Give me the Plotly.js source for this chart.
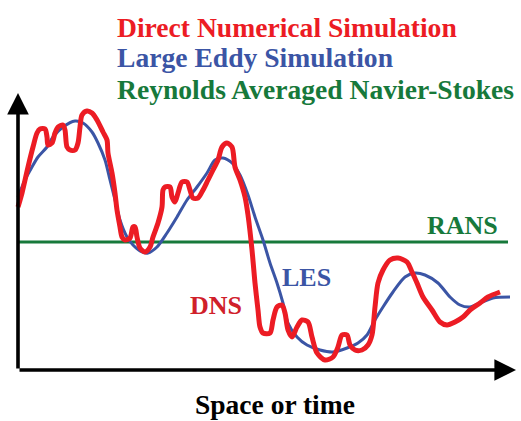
<!DOCTYPE html>
<html>
<head>
<meta charset="utf-8">
<script src="https://cdn.plot.ly/plotly-3.0.1.min.js"></script>
<style>html,body{margin:0;padding:0;background:#fff;}#chart{width:521px;height:421px;}</style>
</head>
<body>
<div id="chart"></div>
<script>
// DNS: Direct Numerical Simulation (space/time vs value)
const dnsX = [0,4,10,15,19,22,27,29,30,34,37,40,45,47,49,52,57,60,62,64,69,74,79,85,89,90,94,97,99,102,104,107,112,115,117,119,122,127,132,135,140,144,145,147,152,154,157,160,164,169,172,175,180,185,190,195,200,204,209,214,217,222,227,230,234,237,240,242,245,252,255,259,264,267,270,274,279,284,290,294,299,307,315,320,324,329,332,337,344,350,354,357,360,365,372,380,389,394,399,405,414,422,429,437,445,452,462,470,482];
const dnsY = [163,177,203,223,237,241,241,233,225,227,237,243,245,240,223,220,220,227,243,255,259,257,250,238,230,217,197,177,160,143,133,130,132,143,143,133,122,118,123,133,147,163,180,183,183,173,168,177,188,188,180,172,172,180,190,200,210,223,227,223,203,190,173,155,120,87,60,43,37,37,50,63,65,57,40,33,43,50,48,33,17,10,13,23,35,35,25,20,20,25,35,63,87,100,110,112,108,98,87,73,60,48,45,48,53,60,67,73,78];
// LES: Large Eddy Simulation
const lesX = [0,7,14,20,29,35,45,57,65,74,80,87,92,97,102,109,115,124,130,139,149,159,169,179,189,197,205,214,222,230,237,245,252,259,265,270,279,289,302,315,329,340,349,357,365,375,387,397,407,420,432,442,452,462,475,492];
const lesY = [173,190,203,213,223,233,243,249,247,238,227,210,190,170,150,133,125,118,117,123,137,153,170,183,197,210,212,207,195,175,153,130,107,87,67,47,33,25,20,18,22,27,35,50,63,78,93,97,95,87,73,65,63,67,72,73];
// RANS: Reynolds Averaged Navier-Stokes (constant mean)
const ransX = [0,490];
const ransY = [128,128];
// Text
const titleLines = ["Direct Numerical Simulation","Large Eddy Simulation","Reynolds Averaged Navier-Stokes"];
const seriesLabels = ["DNS","LES","RANS"];
const xLabel = "Space or time";

const RED = "#ec1c24", BLUE = "#3b55a5", GREEN = "#17793b";
const FONT = "Liberation Serif";

const traces = [
  {x: ransX, y: ransY, mode: "lines", line: {color: GREEN, width: 3}, hoverinfo: "skip"},
  {x: lesX, y: lesY, mode: "lines", line: {color: BLUE, width: 3, shape: "spline", smoothing: 0.8}, hoverinfo: "skip"},
  {x: dnsX, y: dnsY, mode: "lines", line: {color: RED, width: 5, shape: "spline", smoothing: 0.8}, hoverinfo: "skip"}
];

function txt(text, x, y, color, size, anchor) {
  return {text: "<b>" + text + "</b>", x: x, y: y, xref: "x", yref: "y", showarrow: false,
    xanchor: anchor || "left", yanchor: "middle", borderpad: 0,
    font: {family: FONT, size: size, color: color}};
}

const annotations = [
  txt(titleLines[0], 98, 343, RED, 27.6),
  txt(titleLines[1], 98, 313, BLUE, 27.6),
  txt(titleLines[2], 98, 281, GREEN, 27.6),
  txt(seriesLabels[0], 171, 65, "#d0202a", 26),
  txt(seriesLabels[1], 263, 93, BLUE, 26),
  txt(seriesLabels[2], 408, 145, GREEN, 26),
  txt(xLabel, 257, -34, "#000", 27.5, "center"),
  // axes with arrowheads
  {x: 0, y: 277, ax: 0, ay: 0, axref: "x", ayref: "y", xref: "x", yref: "y", showarrow: true,
   arrowhead: 2, arrowsize: 1.2, arrowwidth: 3.6, arrowcolor: "#000", text: ""},
  {x: 498, y: 0, ax: 0, ay: 0, axref: "x", ayref: "y", xref: "x", yref: "y", showarrow: true,
   arrowhead: 2, arrowsize: 1.2, arrowwidth: 3.6, arrowcolor: "#000", text: ""}
];

const layout = {
  width: 521, height: 421,
  margin: {l: 0, r: 0, t: 0, b: 0},
  paper_bgcolor: "#fff", plot_bgcolor: "#fff",
  showlegend: false,
  font: {family: FONT},
  xaxis: {range: [-18, 503], visible: false, fixedrange: true},
  yaxis: {range: [-51, 370], visible: false, fixedrange: true},
  annotations: annotations
};

Plotly.newPlot("chart", traces, layout, {displayModeBar: false, staticPlot: true});
</script>
</body>
</html>
